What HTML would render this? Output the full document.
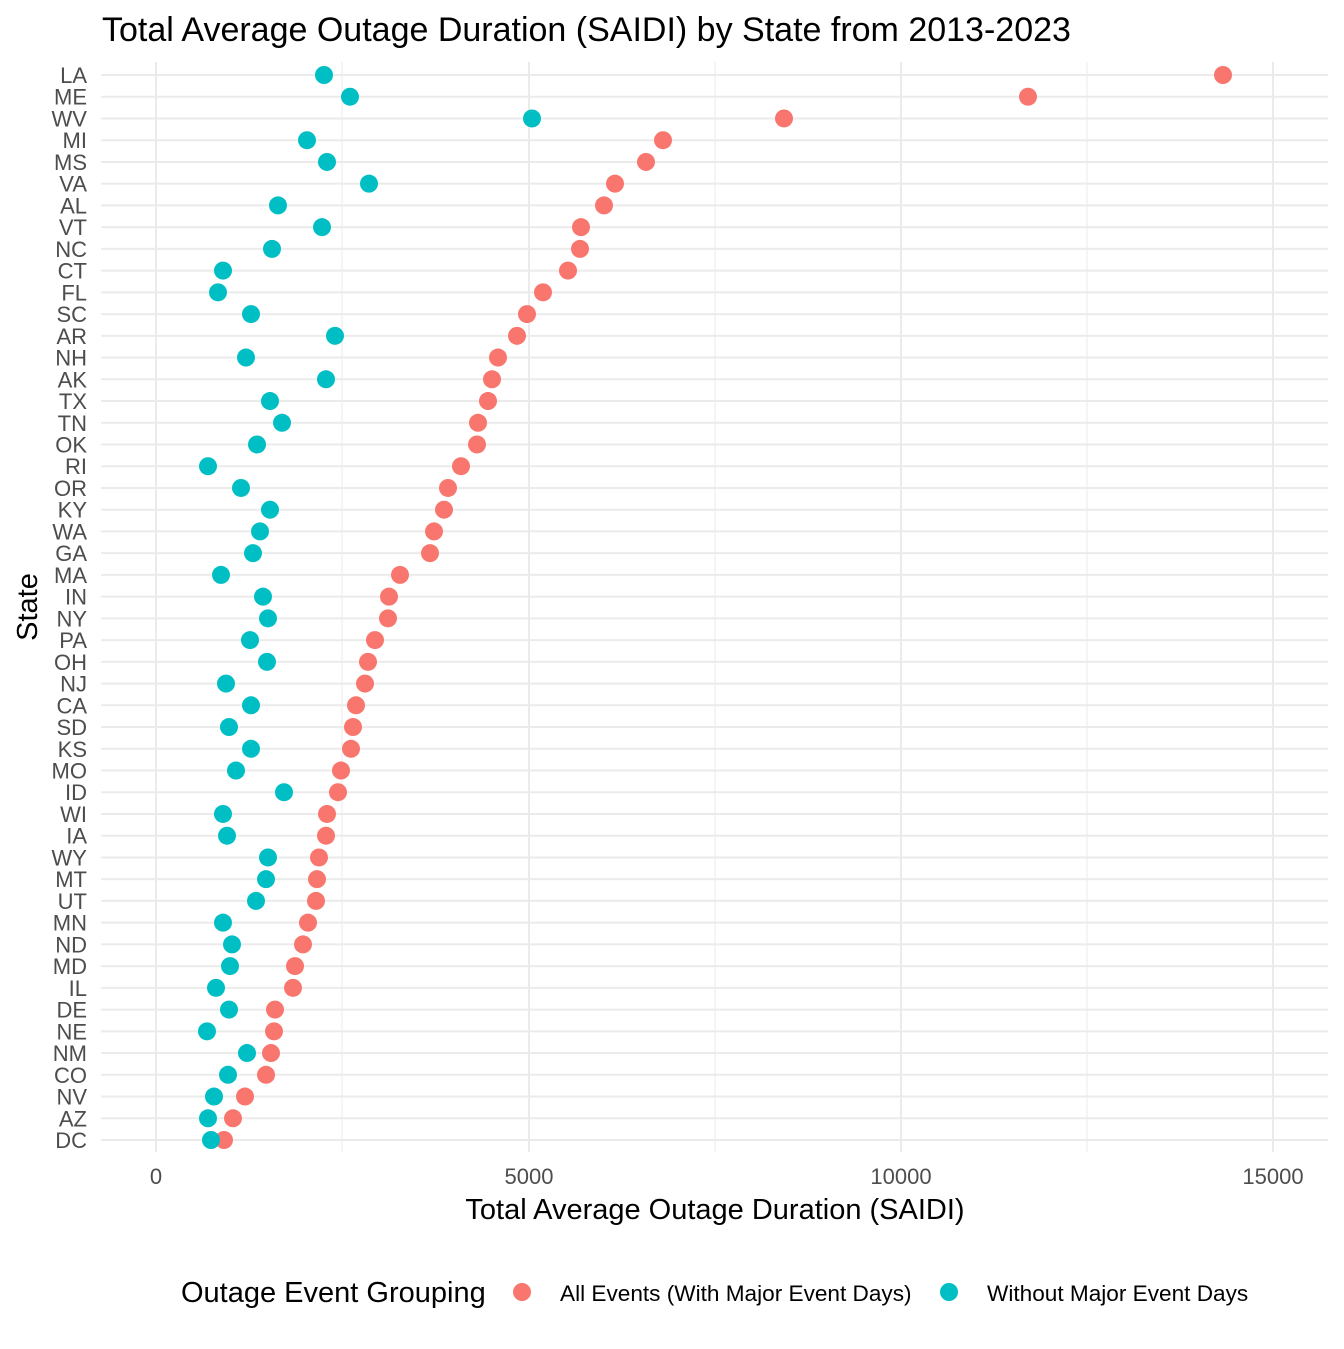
<!DOCTYPE html>
<html><head><meta charset="utf-8"><style>
body{margin:0;background:#fff}
svg text{font-family:"Liberation Sans",Arial,sans-serif}
</style></head><body>
<svg width="1344" height="1344" xmlns="http://www.w3.org/2000/svg">
<rect width="1344" height="1344" fill="#fff"/>
<text x="102" y="41" font-size="34" fill="#000">Total Average Outage Duration (SAIDI) by State from 2013-2023</text>
<g id="grid"></g>
<g id="pts"></g>
<g id="labels" font-size="22" fill="#4d4d4d" text-anchor="end"></g>
<g font-size="22" fill="#4d4d4d" text-anchor="middle">
<text x="156" y="1184">0</text><text x="529" y="1184">5000</text><text x="901" y="1184">10000</text><text x="1273" y="1184">15000</text>
</g>
<text x="715" y="1219" font-size="29" text-anchor="middle" fill="#000">Total Average Outage Duration (SAIDI)</text>
<text transform="translate(37,607) rotate(-90)" font-size="29" text-anchor="middle" fill="#000">State</text>
<text x="181" y="1302" font-size="29" fill="#000">Outage Event Grouping</text>
<circle cx="522" cy="1292" r="9" fill="#F8766D"/>
<text x="560" y="1301" font-size="22.6" fill="#000">All Events (With Major Event Days)</text>
<circle cx="949" cy="1292" r="9" fill="#00BFC4"/>
<text x="987" y="1301" font-size="22.6" fill="#000">Without Major Event Days</text>
<script>
const d=[["LA",1223,324],["ME",1028,350],["WV",784,532],["MI",663,307],["MS",646,327],["VA",615,369],["AL",604,278],["VT",581,322],["NC",580,272],["CT",568,223],["FL",543,218],["SC",527,251],["AR",517,335],["NH",498,246],["AK",492,326],["TX",488,270],["TN",478,282],["OK",477,257],["RI",461,208],["OR",448,241],["KY",444,270],["WA",434,260],["GA",430,253],["MA",400,221],["IN",389,263],["NY",388,268],["PA",375,250],["OH",368,267],["NJ",365,226],["CA",356,251],["SD",353,229],["KS",351,251],["MO",341,236],["ID",338,284],["WI",327,223],["IA",326,227],["WY",319,268],["MT",317,266],["UT",316,256],["MN",308,223],["ND",303,232],["MD",295,230],["IL",293,216],["DE",275,229],["NE",274,207],["NM",271,247],["CO",266,228],["NV",245,214],["AZ",233,208],["DC",224,211]];
const ns="http://www.w3.org/2000/svg";
function el(t,a,p){const e=document.createElementNS(ns,t);for(const k in a)e.setAttribute(k,a[k]);document.getElementById(p).appendChild(e);return e;}
[342,715,1087].forEach(x=>el("line",{x1:x,x2:x,y1:62,y2:1152,stroke:"#ebebeb","stroke-width":1},"grid"));
[156,529,901,1273].forEach(x=>el("line",{x1:x,x2:x,y1:62,y2:1152,stroke:"#ebebeb","stroke-width":2},"grid"));
const step=(1140-75)/49;
d.forEach((r,i)=>{const y=75+i*step;
el("line",{x1:101,x2:1328,y1:y,y2:y,stroke:"#ebebeb","stroke-width":2},"grid");
const t=el("text",{x:87,y:y+8},"labels");t.textContent=r[0];
el("circle",{cx:r[1],cy:y,r:9,fill:"#F8766D"},"pts");});
d.forEach((r,i)=>{const y=75+i*step;el("circle",{cx:r[2],cy:y,r:9,fill:"#00BFC4"},"pts");});
</script>
</svg>
</body></html>
